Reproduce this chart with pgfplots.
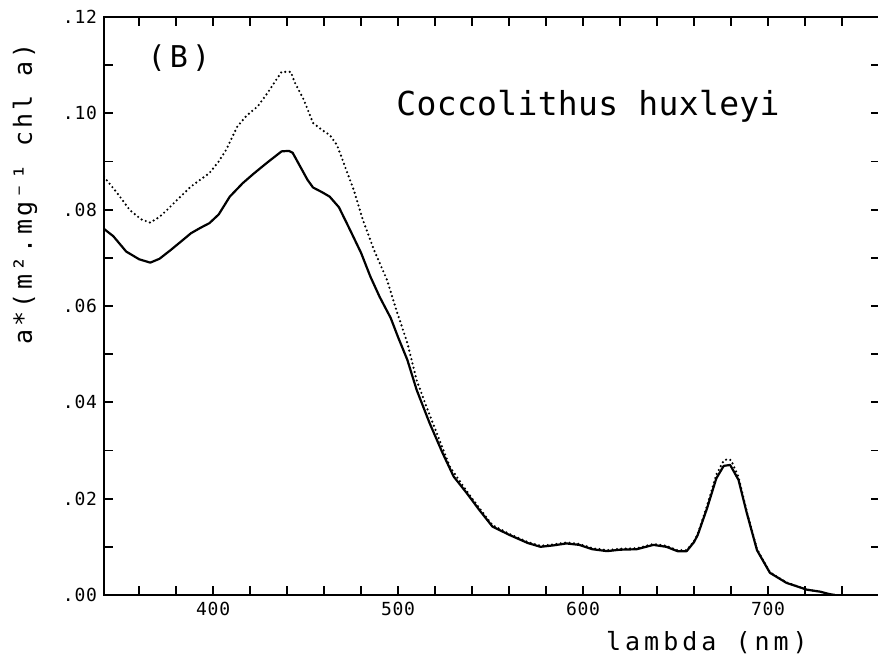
\documentclass[border=0pt]{standalone}
\usepackage{fontspec}
\usepackage{pgfplots}
\pgfplotsset{compat=1.18}
\newfontfamily\titlefont[LetterSpace=1]{DejaVu Sans Mono}
\newfontfamily\bfont[LetterSpace=14]{DejaVu Sans Mono}
\newfontfamily\xlabfont[LetterSpace=16]{DejaVu Sans Mono}
\newfontfamily\ylabfont[LetterSpace=13]{DejaVu Sans Mono}
\newfontfamily\tickfont[LetterSpace=4]{DejaVu Sans Mono}
\begin{document}
\begin{tikzpicture}
\begin{axis}[
  width=388pt, height=289pt, scale only axis,
  xmin=341, xmax=760.5, ymin=0, ymax=0.12,
  axis line style={line width=1pt},
  xtick={400,500,600,700}, xticklabels={400,500,600,700},
  minor xtick={360,380,420,440,460,480,520,540,560,580,620,640,660,680,720,740,760},
  ytick={0,0.02,0.04,0.06,0.08,0.10,0.12},
  yticklabels={.00,.02,.04,.06,.08,.10,.12},
  minor ytick={0.01,0.03,0.05,0.07,0.09,0.11},
  tick align=inside, xtick pos=both, ytick pos=both,
  xticklabel pos=lower, yticklabel pos=left,
  major tick length=4.5pt, minor tick length=4.5pt,
  every tick/.style={line width=0.9pt, black},
  x tick label style={font=\tickfont\fontsize{9}{10}\selectfont},
  y tick label style={font=\tickfont\fontsize{9}{10}\selectfont},
  xlabel={lambda (nm)},
  xlabel style={font=\xlabfont\fontsize{12.5}{14}\selectfont, at={(axis description cs:0.777,-0.0952)}, anchor=base},
  ylabel={a*(m².mg⁻¹ chl a)},
  ylabel style={font=\ylabfont\fontsize{12.5}{14}\selectfont, at={(axis description cs:-0.1018,0.6938)}, anchor=center, rotate=0},
]
\addplot[black, line width=1.1pt, line join=round] coordinates {
(341,0.0760) (346,0.0745) (353,0.0713) (360,0.0697) (366,0.0690) (371,0.0698)
(377,0.0716) (383,0.0735) (388,0.0751) (393,0.0762) (398,0.0772) (403,0.0790)
(409,0.0827) (416,0.0855) (422,0.0875) (429,0.0897) (434,0.0912) (437,0.0921)
(441,0.0922) (443,0.0918) (447,0.0890) (451,0.0862) (454,0.0846) (459,0.0836)
(463,0.0827) (468,0.0805) (474,0.0758) (480,0.0710) (485,0.0661) (490,0.0619)
(496,0.0575) (500,0.0535) (505,0.0488) (510,0.0426) (517,0.0357) (524,0.0295)
(530,0.0246) (537,0.0212) (544,0.0176) (551,0.0142) (560,0.0125) (570,0.0108)
(577,0.0100) (584,0.0103) (591,0.0107) (598,0.0104) (605,0.0095) (613,0.0091)
(620,0.0094) (629,0.0095) (638,0.0104) (645,0.0100) (651,0.0091) (656,0.0091)
(660,0.0110) (662,0.0125) (667,0.0180) (672,0.0242) (676,0.0268) (679.5,0.0270)
(684,0.0239) (688.5,0.0170) (694,0.0093) (701,0.0046) (710,0.0025) (721,0.0011)
(728,0.0007) (733,0.0002) (736,0.0000)
};
\addplot[black, line width=1.2pt, line cap=round, dash pattern=on 0pt off 2.2pt] coordinates {
(341,0.0868) (348,0.0835) (355,0.0799) (361,0.0780) (366,0.0773) (371,0.0785)
(375,0.0799) (381,0.0822) (388,0.0848) (393,0.0862) (398,0.0876) (403,0.0900)
(407,0.0924) (413,0.0972) (418,0.0995) (424,0.1014) (429,0.1040) (434,0.1069)
(437,0.1086) (442,0.1086) (444,0.1065) (449,0.1028) (454,0.0980) (459,0.0965)
(463,0.0955) (467,0.0934) (472,0.0882) (476,0.0841) (481,0.0778) (487,0.0716)
(494,0.0654) (499,0.0592) (505,0.0523) (510,0.0446) (516,0.0384) (523,0.0315)
(528,0.0266) (537,0.0216) (544,0.0180) (551,0.0145) (560,0.0127) (570,0.0110)
(577,0.0102) (584,0.0105) (591,0.0109) (598,0.0106) (605,0.0097) (613,0.0093)
(620,0.0096) (629,0.0097) (638,0.0106) (645,0.0102) (651,0.0093) (656,0.0093)
(660,0.0112) (662,0.0127) (667,0.0185) (672,0.0250) (676,0.0279) (678,0.0282)
(680,0.0280) (684,0.0245) (688.5,0.0173) (694,0.0095) (701,0.0047) (710,0.0026)
(721,0.0011) (728,0.0007) (733,0.0002) (736,0.0000)
};
\node[font=\titlefont\fontsize{16.5}{18}\selectfont, anchor=base] at (axis description cs:0.6237,0.8293) {Coccolithus huxleyi};
\node[font=\bfont\fontsize{15}{17}\selectfont, anchor=center] at (axis description cs:0.0966,0.929) {(B)};
\coordinate (bl) at (axis description cs:-0.13402,-0.10381);
\coordinate (tr) at (axis description cs:0.99742,1.02941);
\end{axis}
\pgfresetboundingbox
\path[use as bounding box] (bl) rectangle (tr);
\end{tikzpicture}
\end{document}
